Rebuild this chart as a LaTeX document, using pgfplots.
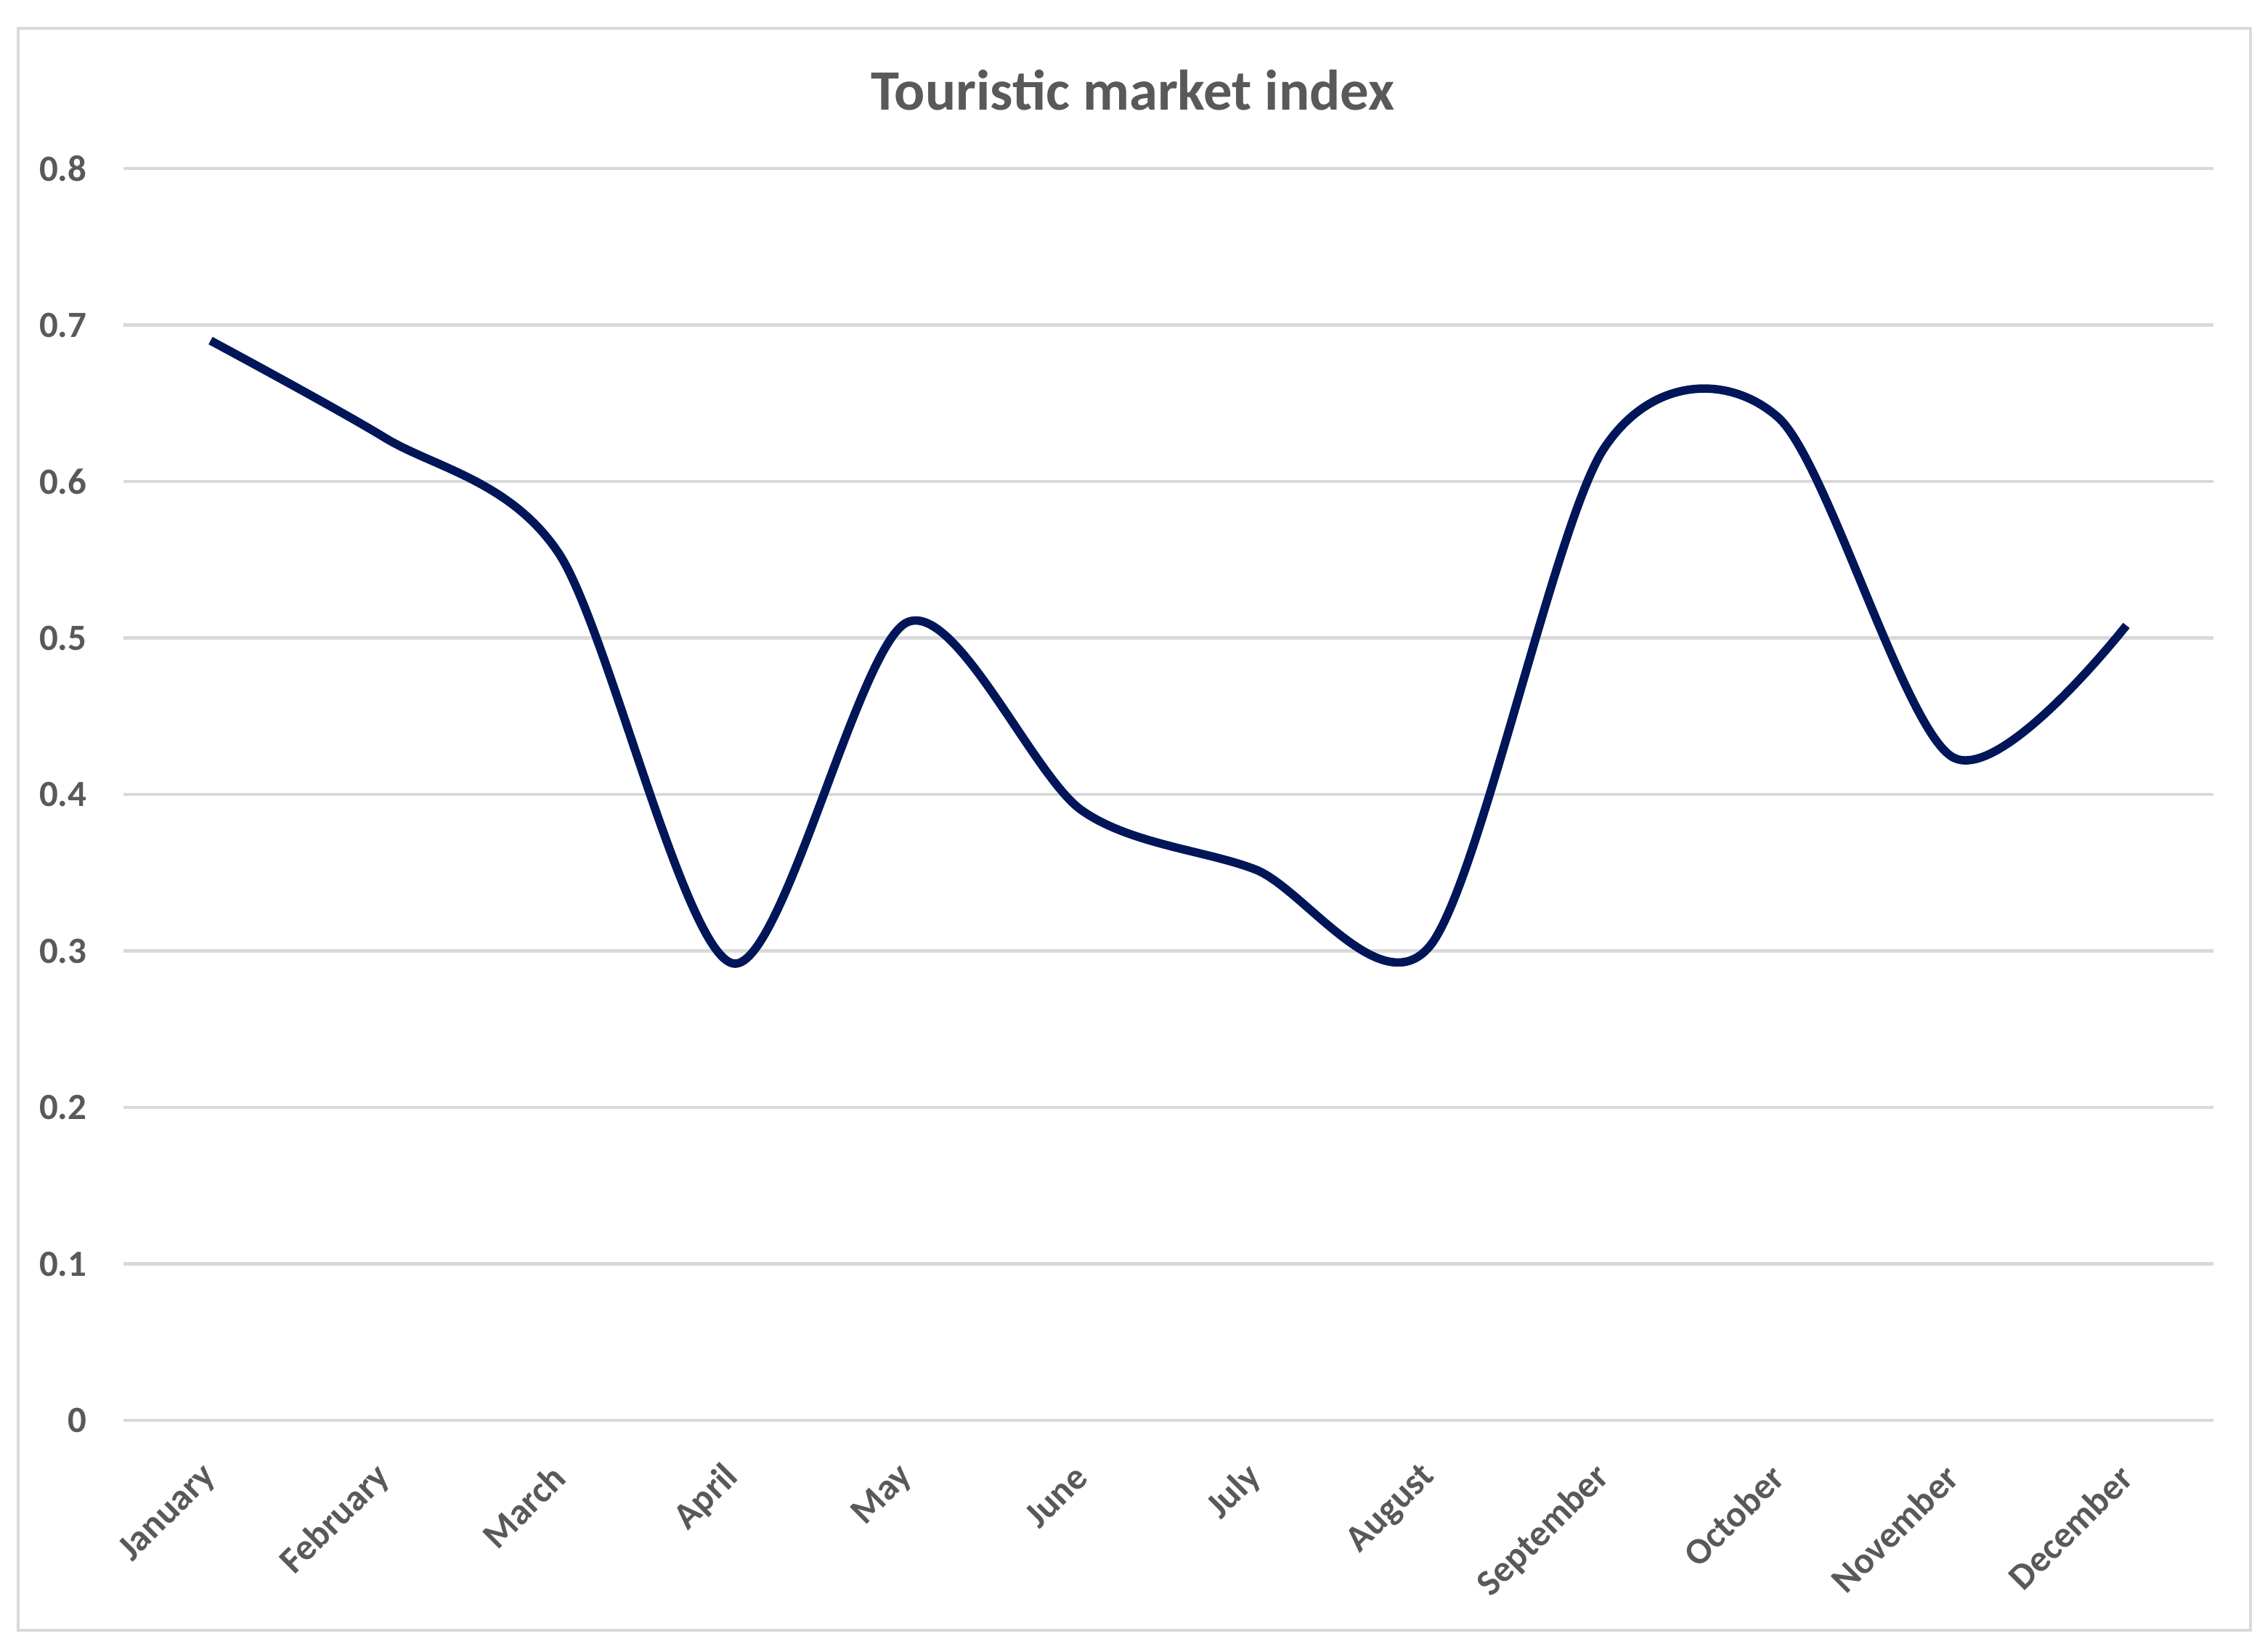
\documentclass[border=0pt]{standalone}
\usepackage{pgfplots}
\pgfplotsset{compat=1.18}
\usepackage{fontspec}
\setmainfont{Carlito}
\definecolor{navy}{RGB}{0,22,88}
\definecolor{gridgray}{RGB}{217,217,217}
\definecolor{txtgray}{RGB}{89,89,89}
\begin{document}
\begin{tikzpicture}
\useasboundingbox[fill=white] (0,0) rectangle (31.19cm,-22.75cm);
\draw[gridgray, line width=1pt] (0.25cm,-0.39cm) rectangle (30.99cm,-22.45cm);
\node[text=txtgray, font=\fontsize{22.4}{26}\selectfont\bfseries] at (15.60cm,-1.24cm) {Touristic market index};
\begin{axis}[
  at={(1.70cm,-19.56cm)}, anchor=south west,
  scale only axis, width=28.78cm, height=17.24cm,
  xmin=-0.5, xmax=11.5, ymin=0, ymax=0.8,
  axis line style={draw=none},
  major tick length=0pt,
  tick style={draw=none},
  ytick={0,0.1,0.2,0.3,0.4,0.5,0.6,0.7,0.8},
  ymajorgrids, grid style={gridgray, line width=1.3pt},
  xtick={0,1,2,3,4,5,6,7,8,9,10,11},
  xticklabels={January,February,March,April,May,June,July,August,September,October,November,December},
  /pgf/number format/assume math mode=true,
  tick label style={text=txtgray, font=\fontsize{14.5}{17}\selectfont\bfseries},
  yticklabel style={anchor=east, inner sep=0pt, xshift=-0.50cm},
  xticklabel style={inner sep=0pt, yshift=-0.70cm, rotate=45, anchor=east},
  clip=false,
]
\addplot[navy, line width=3.3pt, smooth, tension=0.5] coordinates {
(0,0.69) (1,0.628) (2,0.554) (3,0.292) (4,0.51) (5,0.39)
(6,0.352) (7,0.303) (8,0.621) (9,0.641) (10,0.424) (11,0.508)
};
\end{axis}
\end{tikzpicture}
\end{document}
